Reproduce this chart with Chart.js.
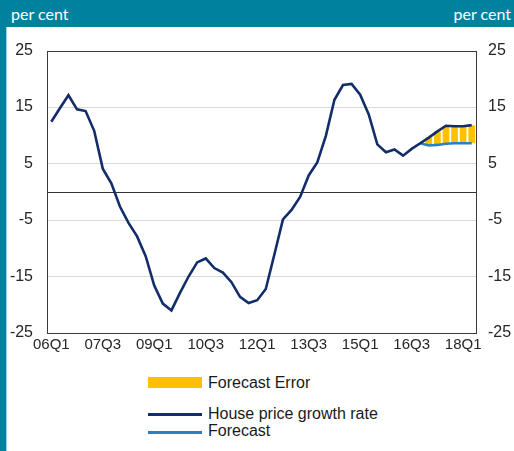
<!DOCTYPE html>
<html>
<head>
<meta charset="utf-8">
<script src="https://cdn.jsdelivr.net/npm/chart.js@4/dist/chart.umd.min.js"></script>
<style>
  html, body { margin: 0; padding: 0; background: #ffffff; }
  body { width: 514px; height: 451px; position: relative; overflow: hidden; }
  #header { position: absolute; left: 0; top: 0; width: 514px; height: 27px; background: #00829f; }
  #stripe { position: absolute; left: 0; top: 27px; width: 6px; height: 424px; background: #00829f; border-right: 1px solid #9fd0dc; }
  .unit { position: absolute; top: 5px; color: #ffffff; font-family: Lato, "Open Sans", sans-serif; font-size: 16px; line-height: 18px; }
  #unitL { left: 11px; }
  #unitR { right: 3px; }
  #cv { position: absolute; left: 6px; top: 27px; }
  .lg { position: absolute; font-family: "Liberation Sans", Arial, sans-serif; font-size: 16px; line-height: 18px; color: #1a1a1a; white-space: nowrap; }
  .sw { position: absolute; left: 148px; width: 54px; }
</style>
</head>
<body>
<div id="header"></div>
<div id="stripe"></div>
<div class="unit" id="unitL">per cent</div>
<div class="unit" id="unitR">per cent</div>
<canvas id="cv" width="508" height="335"></canvas>

<div class="sw" style="top:377px;height:11px;background:#ffc000;"></div>
<div class="lg" style="left:208px;top:374px;">Forecast Error</div>
<div class="sw" style="top:413px;height:3px;background:#122d6a;"></div>
<div class="lg" style="left:208px;top:405px;">House price growth rate</div>
<div class="sw" style="top:431px;height:3px;background:#2a80c6;"></div>
<div class="lg" style="left:208px;top:422px;">Forecast</div>

<script>
// ---- data ----
const quarters = [
  "06Q1","06Q2","06Q3","06Q4","07Q1","07Q2","07Q3","07Q4",
  "08Q1","08Q2","08Q3","08Q4","09Q1","09Q2","09Q3","09Q4",
  "10Q1","10Q2","10Q3","10Q4","11Q1","11Q2","11Q3","11Q4",
  "12Q1","12Q2","12Q3","12Q4","13Q1","13Q2","13Q3","13Q4",
  "14Q1","14Q2","14Q3","14Q4","15Q1","15Q2","15Q3","15Q4",
  "16Q1","16Q2","16Q3","16Q4","17Q1","17Q2","17Q3","17Q4",
  "18Q1","18Q2"
];
const housePriceGrowth = [
  12.4, 14.8, 17.1, 14.6, 14.3, 10.8, 4.1, 1.5,
  -2.6, -5.5, -7.9, -11.4, -16.6, -19.8, -21.0, -17.9,
  -15.0, -12.5, -11.8, -13.5, -14.3, -16.0, -18.6, -19.7,
  -19.2, -17.2, -11.1, -4.9, -3.2, -0.9, 2.9, 5.2,
  9.9, 16.3, 18.9, 19.1, 17.2, 13.7, 8.4, 7.0,
  7.5, 6.4, 7.6, 8.6, 9.6, 10.7, 11.7, 11.6,
  11.6, 11.8
];
const forecast = [
  null, null, null, null, null, null, null, null,
  null, null, null, null, null, null, null, null,
  null, null, null, null, null, null, null, null,
  null, null, null, null, null, null, null, null,
  null, null, null, null, null, null, null, null,
  null, null, null, 8.6, 8.2, 8.3, 8.5, 8.6,
  8.6, 8.6
];
const yTicks = [-25, -15, -5, 5, 15, 25];
const labelEvery = 6;

// forecast error bars: from forecast to actual, where forecast exists (after its first point)
const firstForecast = forecast.findIndex(v => v !== null);
const forecastError = forecast.map((f, i) =>
  (f === null || i <= firstForecast) ? null : [f, housePriceGrowth[i]]);

const tickFont = { family: "'Liberation Sans', Arial, sans-serif", size: 16 };

const frame = {
  id: 'frame',
  beforeDatasetsDraw(chart) {
    const { ctx, chartArea: a } = chart;
    const y0 = Math.round(chart.scales.y.getPixelForValue(0)) + 0.5;
    ctx.save();
    ctx.strokeStyle = '#333333';
    ctx.lineWidth = 1.2;
    ctx.beginPath();
    ctx.moveTo(a.left, y0);
    ctx.lineTo(a.right, y0);
    ctx.stroke();
    ctx.restore();
  },
  afterDraw(chart) {
    const { ctx, chartArea: a } = chart;
    ctx.save();
    ctx.strokeStyle = '#3a3a3a';
    ctx.lineWidth = 1;
    ctx.strokeRect(Math.round(a.left) + 0.5, Math.round(a.top) + 0.5,
                   Math.round(a.right - a.left), Math.round(a.bottom - a.top));
    ctx.restore();
  }
};

new Chart(document.getElementById('cv'), {
  type: 'line',
  data: {
    labels: quarters,
    datasets: [
      {
        type: 'line',
        label: 'House price growth rate',
        data: housePriceGrowth,
        borderColor: '#122d6a',
        borderWidth: 2.6,
        pointRadius: 0,
        tension: 0,
        order: 1
      },
      {
        type: 'line',
        label: 'Forecast',
        data: forecast,
        borderColor: '#2a80c6',
        borderWidth: 2.6,
        pointRadius: 0,
        tension: 0,
        spanGaps: false,
        order: 2
      },
      {
        type: 'bar',
        label: 'Forecast Error',
        data: forecastError,
        backgroundColor: '#ffc000',
        borderWidth: 0,
        categoryPercentage: 1.0,
        barPercentage: 0.78,
        order: 3
      }
    ]
  },
  options: {
    responsive: false,
    devicePixelRatio: 1,
    animation: false,
    layout: { padding: { top: 20, left: 0, right: 0, bottom: 0 } },
    plugins: { legend: { display: false }, tooltip: { enabled: false } },
    scales: {
      x: {
        type: 'category',
        offset: true,
        grid: { display: false, drawTicks: false },
        border: { display: false },
        ticks: {
          autoSkip: false,
          maxRotation: 0,
          minRotation: 0,
          padding: 3,
          color: '#262626',
          font: { family: tickFont.family, size: 15 },
          callback: (v, i) => (i % labelEvery === 0 ? quarters[i] : '')
        },
        afterFit(s) { s.height = 29; }
      },
      y: {
        position: 'left',
        min: -25, max: 25,
        afterBuildTicks(s) { s.ticks = yTicks.map(v => ({ value: v })); },
        grid: {
          drawTicks: false,
          color: c => (Math.abs(c.tick.value) === 25 ? 'rgba(0,0,0,0)' : '#d9d9d9'),
          lineWidth: 1
        },
        border: { display: false },
        ticks: { padding: 14, color: '#262626', font: tickFont },
        afterFit(s) { s.width = 41; }
      },
      y2: {
        position: 'right',
        min: -25, max: 25,
        afterBuildTicks(s) { s.ticks = yTicks.map(v => ({ value: v })); },
        grid: { display: false, drawTicks: false },
        border: { display: false },
        ticks: { padding: 12, color: '#262626', font: tickFont },
        afterFit(s) { s.width = 38; }
      }
    }
  },
  plugins: [frame]
});
</script>
</body>
</html>
